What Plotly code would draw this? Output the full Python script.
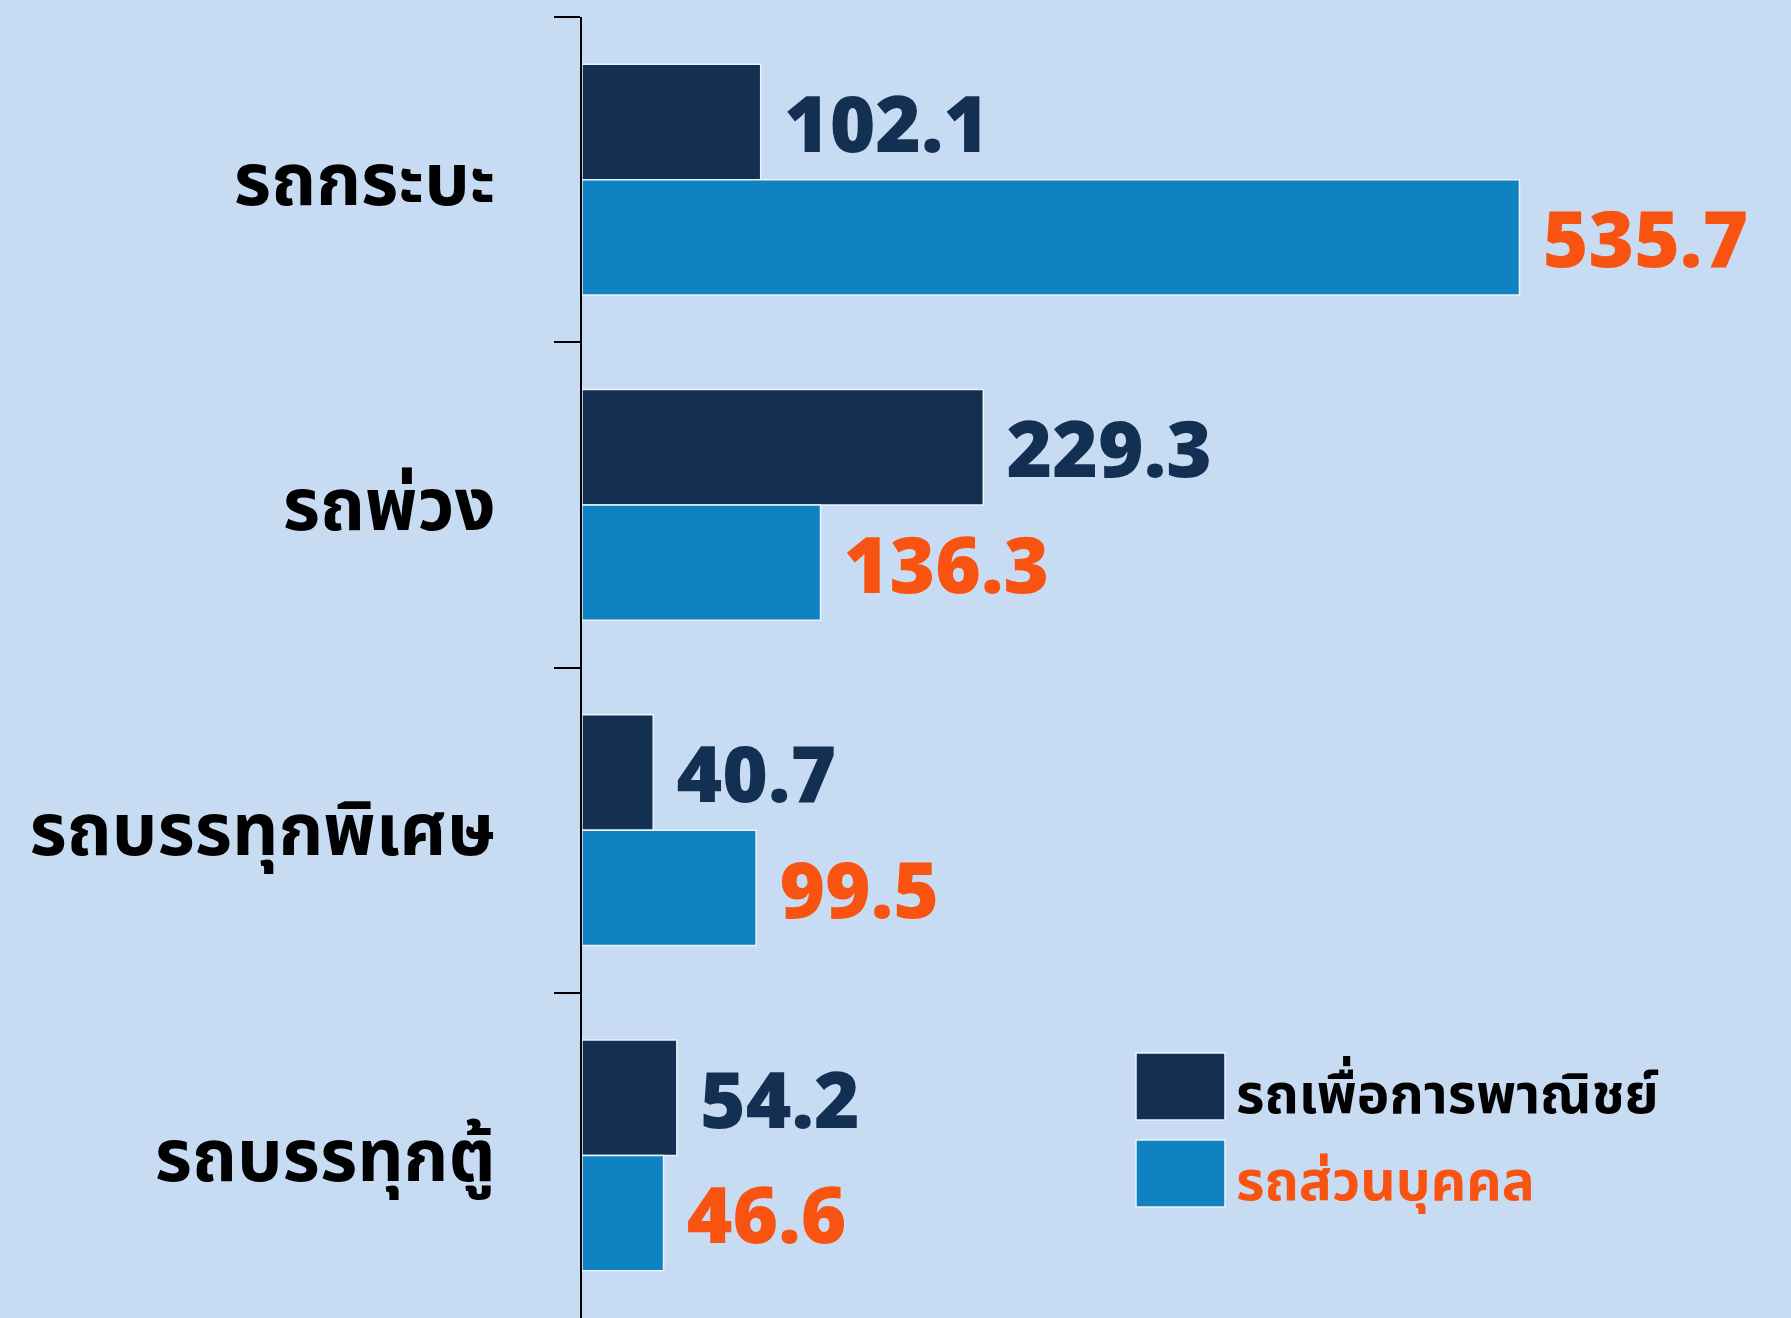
import plotly.graph_objects as go

categories = ["รถกระบะ", "รถพ่วง", "รถบรรทุกพิเศษ", "รถบรรทุกตู้"]
series_names = ["รถเพื่อการพาณิชย์", "รถส่วนบุคคล"]
commercial = [102.1, 229.3, 40.7, 54.2]
personal = [535.7, 136.3, 99.5, 46.6]

BG = "#C7DCF2"
NAVY = "#132F52"
BLUE = "#0F82C1"
ORANGE = "#F95312"
FONT = "Noto Sans Thai, Noto Sans, Roboto, sans-serif"

fig = go.Figure()
for name, vals, col, tcol in [(series_names[0], commercial, NAVY, NAVY),
                              (series_names[1], personal, BLUE, ORANGE)]:
    fig.add_trace(go.Bar(
        y=categories, x=vals, name=name, orientation="h",
        marker=dict(color=col, line=dict(color="#EAF2FB", width=1.5)),
        text=[f"{v:.1f}" for v in vals],
        texttemplate="\u00a0%{text}",
        textposition="outside", cliponaxis=False, constraintext="none",
        textfont=dict(family="Open Sans", size=78, color=tcol, weight=800),
        showlegend=False,
    ))

fig.update_layout(
    width=1791, height=1318,
    paper_bgcolor=BG, plot_bgcolor=BG,
    margin=dict(l=582, r=159, t=17, b=0),
    barmode="group", bargap=0.29, bargroupgap=0,
    xaxis=dict(range=[0, 600], visible=False, showgrid=False, zeroline=False),
    yaxis=dict(autorange="reversed", showgrid=False, zeroline=False,
               showline=True, linecolor="black", linewidth=2,
               ticks="outside", tickson="boundaries", ticklen=26, tickwidth=2,
               tickcolor="black", ticklabelstandoff=70,
               tickfont=dict(family=FONT, size=72, color="black", weight="bold")),
)

# manual legend
legend_items = [(series_names[0], NAVY, "black", 1053, 1120),
                (series_names[1], BLUE, ORANGE, 1140, 1207)]
for name, col, tcol, y0, y1 in legend_items:
    fig.add_shape(type="rect", xref="paper", yref="paper",
                  x0=(1136 - 582) / 1050, x1=(1225 - 582) / 1050,
                  y0=1 - (y1 - 17) / 1301, y1=1 - (y0 - 17) / 1301,
                  fillcolor=col, line=dict(color="#EAF2FB", width=1.5))
    fig.add_annotation(xref="paper", yref="paper",
                       x=(1234 - 582) / 1050, y=1 - ((y0 + y1) / 2 - 17) / 1301,
                       xanchor="left", yanchor="middle", showarrow=False, yshift=-10,
                       text=name, font=dict(family=FONT, size=55, color=tcol, weight="bold"))

fig.write_html("out.html", config={"displayModeBar": False},
               post_script="document.body.style.margin='0';document.body.style.background='%s';" % BG)
